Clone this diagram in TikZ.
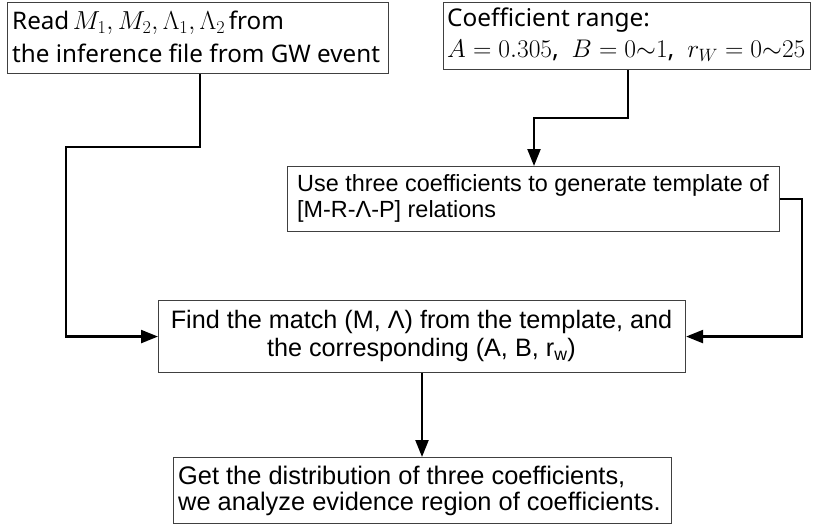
\RequirePackage{fix-cm}
\documentclass[tikz,border=0pt]{standalone}
\usepackage{fontspec}
\setmainfont{Liberation Sans}
\newfontfamily\segoe{Noto Sans}
\usetikzlibrary{arrows.meta}
\tikzset{
  box/.style={draw=black!75, line width=1.1pt, rectangle, inner sep=0pt, anchor=north west},
  conn/.style={line width=2.3pt, black, line join=miter},
  arr/.style={conn, -{Triangle[length=17pt,width=13pt]}},
}
\newcommand{\bigmath}[1]{{\fontsize{26}{32}\selectfont$#1$}}
\begin{document}
\begin{tikzpicture}[x=1pt,y=-1pt]
\useasboundingbox (0,0) rectangle (813,527);
% boxes
\node[box, minimum width=381pt, minimum height=71pt] (b1) at (7,2) {};
\node[anchor=west, align=left, inner sep=0pt, font=\segoe\fontsize{24.2}{33}\selectfont] (t1) at (12,37)
  {Read\hspace{0.15em}\bigmath{M_1,M_2,\Lambda_1,\Lambda_2}\hspace{0.15em}from\\the inference file from GW event};
\node[box, minimum width=367pt, minimum height=67pt] (b2) at (443,2) {};
\node[anchor=west, align=left, inner sep=0pt, font=\segoe\fontsize{24.4}{31}\selectfont] (t2) at (447,35)
  {Coefficient range:\\{\fontsize{25.5}{31}\selectfont$A=0.305$,\enspace$B=0{\sim}1$,\enspace$r_W=0{\sim}25$}};
\node[box, minimum width=492pt, minimum height=65pt] (b3) at (287,166) {};
\node[anchor=west, align=left, inner sep=0pt, font=\fontsize{23.4}{26}\selectfont] (t3) at (297,198.5)
  {Use three coefficients to generate template of\\{[}M-R-\char"039B-P] relations};
\node[box, minimum width=527pt, minimum height=72pt] (b4) at (158,300) {};
\node[align=center, inner sep=0pt, font=\fontsize{25.2}{28}\selectfont] (t4) at (421.5,336)
  {Find the match (M, \char"039B) from the template, and\\the corresponding (A, B, r\textsubscript{w})};
\node[box, minimum width=498pt, minimum height=66pt] (b5) at (173,457) {};
\node[anchor=west, align=left, inner sep=0pt, font=\fontsize{25.4}{26}\selectfont] (t5) at (178,491)
  {Get the distribution of three coefficients,\\we analyze evidence region of coefficients.};
% connectors
\coordinate (c1a) at (200,147);
\coordinate (c1b) at (66,147);
\draw[arr] (b1.south west -| c1a) -- (c1a) -- (c1b) |- (b4.west);
\coordinate (c2a) at (628,118);
\coordinate (c2b) at (534,118);
\draw[arr] (b2.south west -| c2a) -- (c2a) -- (c2b) -- (b3.north west -| c2b);
\coordinate (c3a) at (802,199);
\draw[arr] (b3.east |- c3a) -- (c3a) |- (b4.east);
\coordinate (c4) at (422,336);
\draw[arr] (b4.south west -| c4) -- (b5.north west -| c4);
\end{tikzpicture}
\end{document}
